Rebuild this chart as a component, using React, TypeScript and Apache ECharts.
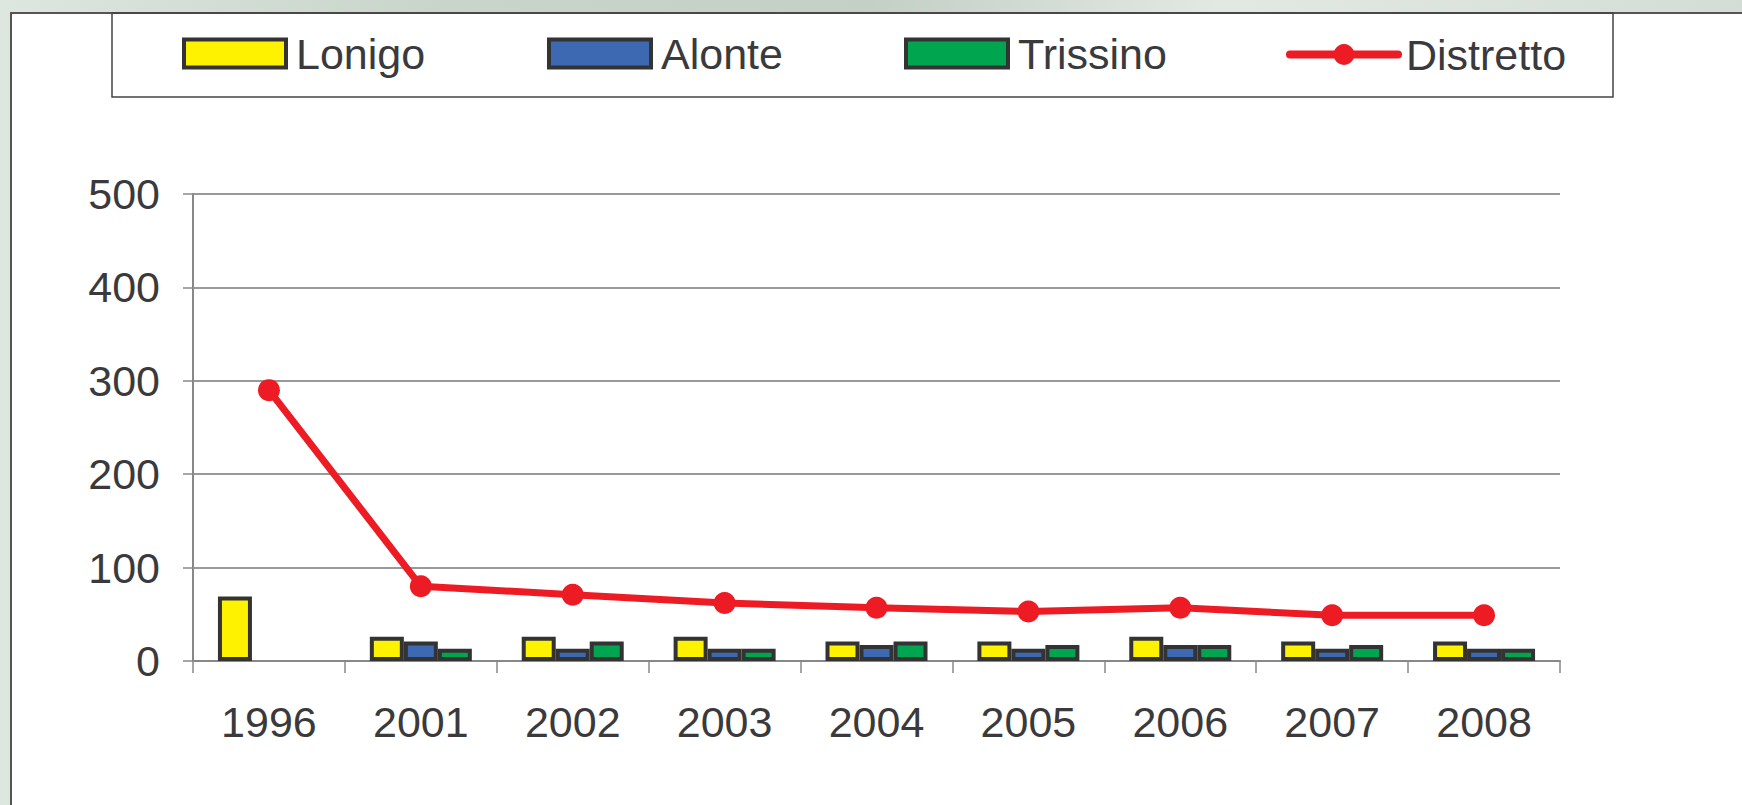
import React, { useEffect, useRef } from "react";
import * as echarts from "echarts";

const categories = ["1996", "2001", "2002", "2003", "2004", "2005", "2006", "2007", "2008"];
const lonigo = [69, 26, 26, 26, 21, 21, 26, 21, 21];
const alonte = [null, 21, 13, 13, 17, 13, 17, 13, 13];
const trissino = [null, 13, 21, 13, 21, 17, 17, 17, 13];
const distretto = [290, 80, 71, 62, 57, 53, 57, 49, 49];
const yTicks = { min: 0, max: 500, interval: 100 };

const FONT = "'Liberation Sans', Arial, sans-serif";
const TEXT = "#3a3a3c";

export default function App() {
  const ref = useRef<HTMLDivElement>(null);
  useEffect(() => {
    if (!ref.current) return;
    const chart = echarts.init(ref.current, null, { renderer: "svg" });
    const legendBase = {
      top: 27,
      itemWidth: 102,
      itemHeight: 28,
      icon: "rect",
      itemStyle: { borderColor: "#333333", borderWidth: 4 },
      textStyle: { fontFamily: FONT, fontSize: 43, color: TEXT, padding: [0, 0, 0, 5] },
    };
    const barStyle = (color: string) => ({ color, borderColor: "#333333", borderWidth: 4 });
    chart.setOption({
      animation: false,
      backgroundColor: "transparent",
      graphic: [
        {
          type: "rect",
          z: -10,
          shape: { x: 0, y: 0, width: 1742, height: 805 },
          style: {
            fill: new echarts.graphic.LinearGradient(0, 0, 1, 0, [
              { offset: 0, color: "#dde6df" },
              { offset: 0.25, color: "#c9d4cb" },
              { offset: 0.5, color: "#c4cfc6" },
              { offset: 0.7, color: "#e2e9e3" },
              { offset: 1, color: "#d3ddd5" },
            ]),
          },
        },
        {
          type: "rect",
          z: -9,
          shape: { x: 11, y: 13, width: 1740, height: 800 },
          style: { fill: "#ffffff", stroke: "#555555", lineWidth: 2 },
        },
        {
          type: "rect",
          z: -8,
          shape: { x: 112, y: 13, width: 1501, height: 84 },
          style: { fill: "none", stroke: "#444444", lineWidth: 1.5 },
        },
      ],
      legend: [
        { ...legendBase, left: 177, data: ["Lonigo"] },
        { ...legendBase, left: 542, data: ["Alonte"] },
        { ...legendBase, left: 899, data: ["Trissino"] },
        {
          top: 28,
          left: 1281,
          itemWidth: 108,
          itemHeight: 26,
          data: ["Distretto"],
          lineStyle: { width: 8, color: "#ED1C24", cap: "round" },
          itemStyle: { color: "#ED1C24", borderWidth: 0 },
          textStyle: { fontFamily: FONT, fontSize: 43, color: TEXT, padding: [0, 0, 0, 3] },
        },
      ],
      grid: { left: 193, right: 182, top: 194, bottom: 144, containLabel: false },
      xAxis: {
        type: "category",
        data: categories,
        boundaryGap: true,
        axisLine: { show: true, lineStyle: { color: "#888888", width: 2 } },
        axisTick: { show: true, length: 12, lineStyle: { color: "#888888", width: 1.5 } },
        axisLabel: { fontFamily: FONT, fontSize: 43, color: TEXT, margin: 39 },
        splitLine: { show: false },
      },
      yAxis: {
        type: "value",
        min: yTicks.min,
        max: yTicks.max,
        interval: yTicks.interval,
        axisLine: { show: true, lineStyle: { color: "#888888", width: 2 } },
        axisTick: { show: true, length: 10, lineStyle: { color: "#888888", width: 1.5 } },
        axisLabel: { fontFamily: FONT, fontSize: 43, color: TEXT, margin: 33 },
        splitLine: { show: true, lineStyle: { color: "#777777", width: 1.5 } },
      },
      series: [
        { name: "Lonigo", type: "bar", data: lonigo, barWidth: 34, barGap: "0%", itemStyle: barStyle("#FFF200") },
        { name: "Alonte", type: "bar", data: alonte, barWidth: 34, barGap: "0%", itemStyle: barStyle("#3D69B3") },
        { name: "Trissino", type: "bar", data: trissino, barWidth: 34, barGap: "0%", itemStyle: barStyle("#00A550") },
        {
          name: "Distretto",
          type: "line",
          data: distretto,
          z: 5,
          symbol: "circle",
          symbolSize: 22,
          lineStyle: { color: "#ED1C24", width: 7 },
          itemStyle: { color: "#ED1C24" },
        },
      ],
    });
    return () => chart.dispose();
  }, []);
  return (
    <div
      ref={ref}
      style={{ position: "absolute", left: 0, top: 0, width: 1742, height: 805 }}
    />
  );
}
